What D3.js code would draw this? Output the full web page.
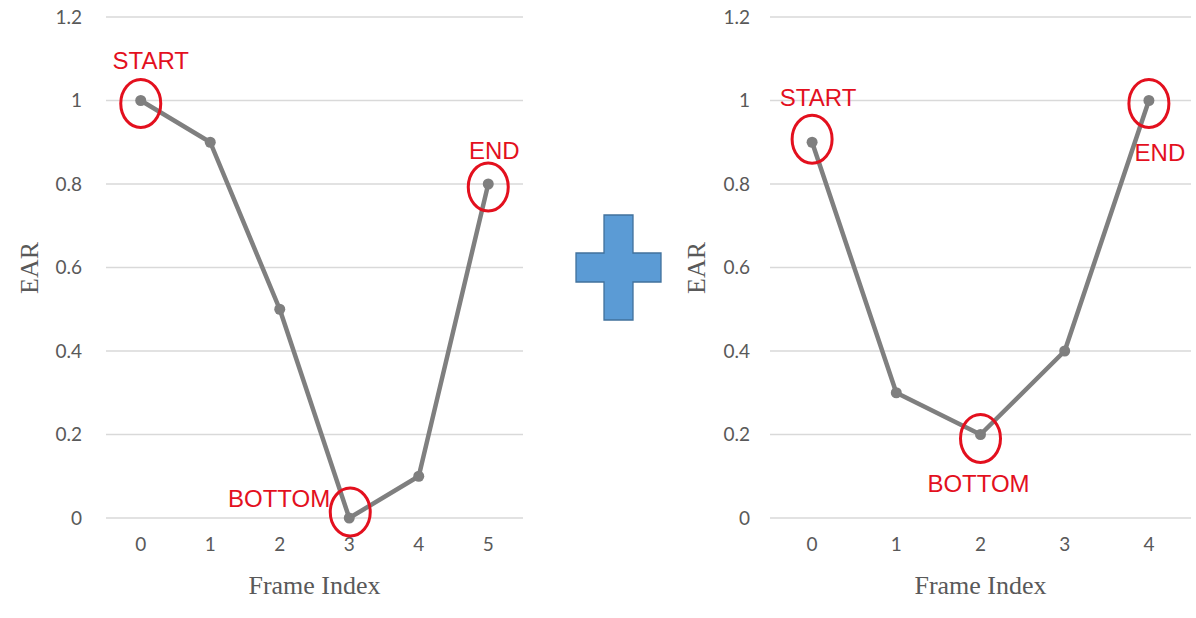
<!DOCTYPE html>
<html>
<head>
<meta charset="utf-8">
<script src="https://cdn.jsdelivr.net/npm/d3@7"></script>
<style>
  html, body { margin: 0; padding: 0; background: #fff; }
  svg { display: block; }
</style>
</head>
<body>
<svg id="chart" width="1196" height="618"></svg>
<script>
// ---- data ----
const leftFrames = ["0", "1", "2", "3", "4", "5"];
const leftEAR = [1, 0.9, 0.5, 0, 0.1, 0.8];
const rightFrames = ["0", "1", "2", "3", "4"];
const rightEAR = [0.9, 0.3, 0.2, 0.4, 1.0];
const yTicks = [0, 0.2, 0.4, 0.6, 0.8, 1, 1.2];
const leftMarks = [
  { index: 0, label: "START" },
  { index: 5, label: "END" },
  { index: 3, label: "BOTTOM" }
];
const rightMarks = [
  { index: 0, label: "START" },
  { index: 4, label: "END" },
  { index: 2, label: "BOTTOM" }
];
const xTitle = "Frame Index";
const yTitle = "EAR";

// ---- drawing ----
const svg = d3.select("#chart");
const gray = "#7f7f7f";
const red = "#e3101e";

function drawPanel(opt) {
  const g = svg.append("g");
  const x = d3.scaleBand().domain(opt.frames).range([opt.left, opt.right]);
  const y = d3.scaleLinear().domain([0, 1.2]).range([518, 17]);

  // gridlines
  g.selectAll("line.grid").data(yTicks).join("line")
    .attr("x1", opt.left).attr("x2", opt.right)
    .attr("y1", d => y(d)).attr("y2", d => y(d))
    .attr("stroke", "#d9d9d9").attr("stroke-width", 1.3);

  // y axis
  const yAxis = d3.axisLeft(y).tickValues(yTicks).tickSize(0).tickPadding(0)
    .tickFormat(d => d3.format("")(d));
  const ya = g.append("g").attr("transform", `translate(${opt.yLabelX},0)`).call(yAxis);
  ya.select(".domain").remove();
  ya.selectAll("text").attr("fill", "#595959")
    .style("font-family", "Lato, 'Open Sans', sans-serif").style("font-size", "19px");

  // x axis
  const xAxis = d3.axisBottom(x).tickSize(0).tickPadding(0);
  const xa = g.append("g").attr("transform", `translate(0,537)`).call(xAxis);
  xa.select(".domain").remove();
  xa.selectAll("text").attr("fill", "#595959")
    .style("font-family", "Lato, 'Open Sans', sans-serif").style("font-size", "19px");

  // axis titles
  g.append("text")
    .attr("x", (opt.left + opt.right) / 2).attr("y", 594)
    .attr("text-anchor", "middle").attr("fill", "#595959")
    .style("font-family", "'Liberation Serif', 'Times New Roman', serif").style("font-size", "26px")
    .text(xTitle);
  g.append("text")
    .attr("transform", `translate(${opt.yTitleX},268) rotate(-90)`)
    .attr("text-anchor", "middle").attr("fill", "#595959")
    .style("font-family", "'Liberation Serif', 'Times New Roman', serif").style("font-size", "26px")
    .text(yTitle);

  const cx = i => x(opt.frames[i]) + x.bandwidth() / 2;

  // line
  const line = d3.line().x((d, i) => cx(i)).y(d => y(d));
  g.append("path").datum(opt.values)
    .attr("d", line).attr("fill", "none")
    .attr("stroke", gray).attr("stroke-width", 4.5).attr("stroke-linejoin", "round");
  g.selectAll("circle.pt").data(opt.values).join("circle")
    .attr("cx", (d, i) => cx(i)).attr("cy", d => y(d)).attr("r", 5.5)
    .attr("fill", gray);

  // annotations
  opt.marks.forEach(m => {
    const px = cx(m.index), py = y(opt.values[m.index]);
    const off = opt.offsets[m.label];
    g.append("ellipse")
      .attr("cx", px + off.ex).attr("cy", py + off.ey)
      .attr("rx", 20).attr("ry", 24)
      .attr("fill", "none").attr("stroke", red).attr("stroke-width", 3);
    g.append("text")
      .attr("x", px + off.tx).attr("y", py + off.ty)
      .attr("text-anchor", off.anchor)
      .attr("fill", red)
      .style("font-family", "'Liberation Sans', Arial, sans-serif").style("font-size", "24px")
      .text(m.label);
  });
}

drawPanel({
  frames: leftFrames, values: leftEAR, marks: leftMarks,
  left: 106, right: 523, yLabelX: 82, yTitleX: 38,
  offsets: {
    START: { ex: 0, ey: 3, tx: 10, ty: -32, anchor: "middle" },
    END:   { ex: 0, ey: 3, tx: 6, ty: -25, anchor: "middle" },
    BOTTOM:{ ex: 1, ey: -6, tx: -19, ty: -11, anchor: "end" }
  }
});
drawPanel({
  frames: rightFrames, values: rightEAR, marks: rightMarks,
  left: 770, right: 1191, yLabelX: 750, yTitleX: 705,
  offsets: {
    START: { ex: 0, ey: -3, tx: 6, ty: -36, anchor: "middle" },
    END:   { ex: 0, ey: 3, tx: 11, ty: 60, anchor: "middle" },
    BOTTOM:{ ex: 0, ey: 4, tx: -2, ty: 57, anchor: "middle" }
  }
});

// plus sign between panels
const plus = svg.append("g");
plus.append("path")
  .attr("d", "M604,215 H633 V253 H661 V282 H633 V320 H604 V282 H576 V253 H604 Z")
  .attr("fill", "#5b9bd5").attr("stroke", "#41719c").attr("stroke-width", 1.3);
</script>
</body>
</html>
